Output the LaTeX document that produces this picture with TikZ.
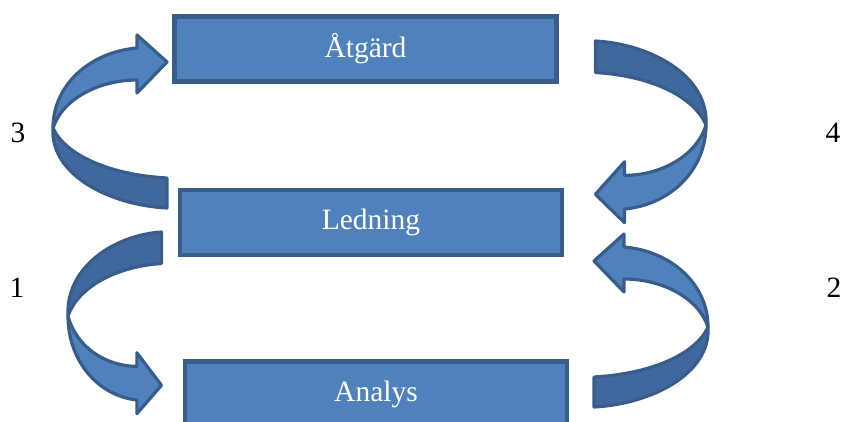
\documentclass[tikz,border=0pt]{standalone}
\usepackage{fontspec}
\setmainfont{Liberation Serif}
\usetikzlibrary{positioning}

\definecolor{boxblue}{HTML}{4F81BD}
\definecolor{edgeblue}{HTML}{385D8A}
\definecolor{backblue}{HTML}{41689C}

\tikzset{
	stepbox/.style={draw=edgeblue, line width=4.5pt, fill=boxblue, text=white, minimum width=382pt, minimum height=65pt, inner sep=0pt, font=\fontsize{29.5}{35}\selectfont},
	numlabel/.style={font=\fontsize{29.5}{35}\selectfont, inner sep=0pt},
	ribbon/.style={draw=edgeblue, line width=3.2pt, line join=round},
}

% curved block arrow, twist point at the origin of the scope
\newcommand{\cyclearrow}[2]{%
	\begin{scope}[shift={(#1)}, #2]
		\draw[ribbon, fill=backblue] (0,0) .. controls (-3,47) and (57,77) .. (114,80) -- (114,50) .. controls (57,47) and (12,27) .. cycle;
		\draw[ribbon, fill=boxblue] (0,0) .. controls (0,-43) and (37,-76) .. (84,-80) -- (84,-93) -- (114,-66) -- (84,-35) -- (84,-48) .. controls (47,-48) and (10,-30) .. cycle;
	\end{scope}}

\begin{document}
\begin{tikzpicture}[x=1pt, y=-1pt]
		\useasboundingbox (0,0) rectangle (841,421);
		\node[stepbox] (atgard) at (365.5,49) {Åtgärd};
		\node[stepbox] (ledning) at (371,222.5) {Ledning};
		\node[stepbox] (analys) at (376,394) {Analys};
		\node[numlabel] (tre) at (18,133) {3};
		\node[numlabel] (fyra) at (833,133) {4};
		\node[numlabel] (ett) at (17,288) {1};
		\node[numlabel] (tva) at (834,288) {2};
		\coordinate (twist3) at (53,128);
		\coordinate (twist4) at (706,125);
		\coordinate (twist1) at (68,316);
		\coordinate (twist2) at (708,327);
		\cyclearrow{twist3}{}
		\cyclearrow{twist4}{xscale=-0.97, yscale=-1.05}
		\cyclearrow{twist1}{xscale=0.82, yscale=-1.05}
		\cyclearrow{twist2}{xscale=-1}
\end{tikzpicture}
\end{document}
